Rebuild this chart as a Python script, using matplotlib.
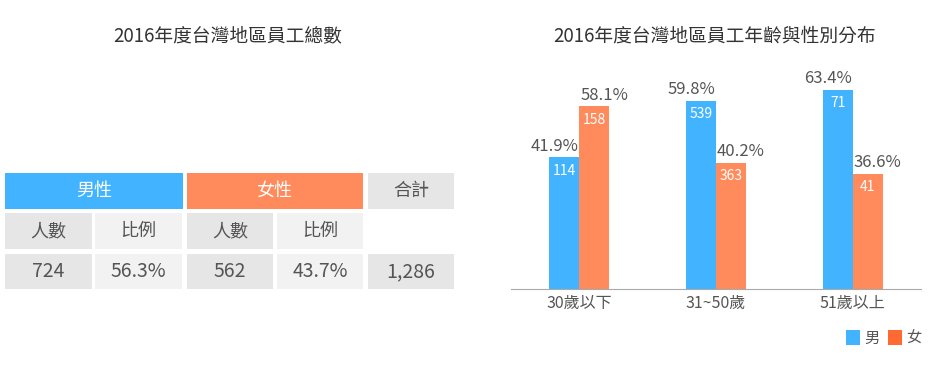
import matplotlib
matplotlib.use("Agg")
import matplotlib.pyplot as plt
from matplotlib.patches import Rectangle
import numpy as np

plt.rcParams["font.family"] = ["Noto Sans CJK TC", "DejaVu Sans"]

# ── data ──
age_groups = ["30歲以下", "31~50歲", "51歲以上"]
male_counts = [114, 539, 71]
female_counts = [158, 363, 41]
male_pct = [41.9, 59.8, 63.4]
female_pct = [58.1, 40.2, 36.6]

gender_headers = ["男性", "女性", "合計"]
sub_headers = ["人數", "比例", "人數", "比例"]
table_values = ["724", "56.3%", "562", "43.7%", "1,286"]

BLUE = "#42B4FF"
ORANGE = "#FF8A5B"
LEG_ORANGE = "#FF6A33"
DARK_CELL = "#E6E6E6"
LIGHT_CELL = "#F2F2F2"
TEXT = "#555555"

W, H = 950, 366
fig = plt.figure(figsize=(W / 100, H / 100), dpi=100)

# ── left: table drawn in pixel coords ──
tab = fig.add_axes([0, 0, 1, 1])
tab.set_xlim(0, W)
tab.set_ylim(H, 0)
tab.axis("off")

tab.text(228, 36, "2016年度台灣地區員工總數", ha="center", va="center",
         fontsize=13.5, color="#333333")


def cell(x0, x1, y0, y1, color, label, tcolor=TEXT, size=13):
    tab.add_patch(Rectangle((x0, y0), x1 - x0, y1 - y0, facecolor=color, edgecolor="none"))
    tab.text((x0 + x1) / 2, (y0 + y1) / 2, label, ha="center", va="center",
             fontsize=size, color=tcolor)


# header row
cell(5, 183, 173, 209, BLUE, gender_headers[0], "white")
cell(187, 363, 173, 209, ORANGE, gender_headers[1], "white")
cell(368, 454, 173, 209, DARK_CELL, gender_headers[2])

# sub-header + values
col_x = [(5, 92), (95, 182), (187, 273), (277, 363)]
col_bg = [DARK_CELL, LIGHT_CELL, DARK_CELL, LIGHT_CELL]
for (x0, x1), bg, lab, val in zip(col_x, col_bg, sub_headers, table_values):
    cell(x0, x1, 213, 249, bg, lab)
    cell(x0, x1, 254, 289, bg, val, size=14)
cell(368, 454, 254, 289, DARK_CELL, table_values[4], size=14)

# ── right: grouped bar chart ──
ax = fig.add_axes([511 / W, (H - 289) / H, 410 / W, 220 / H])
x = np.arange(len(age_groups))
bw = 0.22
ax.bar(x - bw / 2, male_pct, bw, color=BLUE)
ax.bar(x + bw / 2, female_pct, bw, color=ORANGE)
ax.set_xlim(-0.5, 2.5)
ax.set_ylim(0, 70)

for xi, p, c in zip(x - bw / 2, male_pct, male_counts):
    ax.annotate(f"{p:.1f}%", (xi, p), xytext=(-7, 2), textcoords="offset points",
                ha="center", va="bottom", fontsize=12, color=TEXT)
    ax.text(xi, p - 2, str(c), ha="center", va="top", fontsize=10, color="white")
for xi, p, c in zip(x + bw / 2, female_pct, female_counts):
    ax.annotate(f"{p:.1f}%", (xi, p), xytext=(7, 2), textcoords="offset points",
                ha="center", va="bottom", fontsize=12, color=TEXT)
    ax.text(xi, p - 2, str(c), ha="center", va="top", fontsize=10, color="white")

ax.set_xticks(x)
ax.set_xticklabels(age_groups, fontsize=11.5, color=TEXT)
ax.tick_params(axis="x", length=0, pad=4)
ax.set_yticks([])
for side in ["top", "right", "left"]:
    ax.spines[side].set_visible(False)
ax.spines["bottom"].set_color("#AAAAAA")

tab.text(715, 36, "2016年度台灣地區員工年齡與性別分布", ha="center", va="center",
         fontsize=13.5, color="#333333")

# legend
tab.add_patch(Rectangle((846, 330), 14, 15, facecolor=BLUE, edgecolor="none"))
tab.text(864, 338, "男", ha="left", va="center", fontsize=11, color=TEXT)
tab.add_patch(Rectangle((888, 330), 14, 15, facecolor=LEG_ORANGE, edgecolor="none"))
tab.text(906, 338, "女", ha="left", va="center", fontsize=11, color=TEXT)

fig.savefig("out.png", dpi=100)
